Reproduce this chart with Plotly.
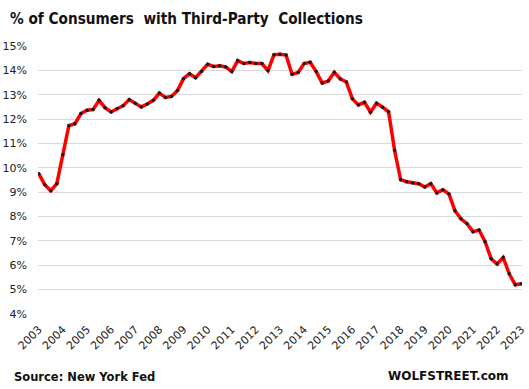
import plotly.graph_objects as go

start_year = 2003
values = [9.76, 9.31, 9.06, 9.35, 10.54, 11.73, 11.81, 12.23, 12.36, 12.39,
          12.77, 12.47, 12.29, 12.43, 12.55, 12.80, 12.65, 12.50, 12.62, 12.77,
          13.07, 12.89, 12.93, 13.17, 13.66, 13.86, 13.70, 13.95, 14.25, 14.16,
          14.19, 14.14, 13.95, 14.40, 14.28, 14.32, 14.28, 14.28, 13.99, 14.64,
          14.66, 14.63, 13.84, 13.91, 14.28, 14.33, 13.95, 13.48, 13.56, 13.92,
          13.65, 13.52, 12.83, 12.58, 12.69, 12.28, 12.65, 12.49, 12.30, 10.71,
          9.51, 9.43, 9.38, 9.35, 9.21, 9.35, 8.97, 9.10, 8.93, 8.24,
          7.91, 7.71, 7.38, 7.45, 6.97, 6.27, 6.05, 6.32, 5.65, 5.20, 5.24]
quarters = [start_year + i / 4 for i in range(len(values))]
tick_years = list(range(2003, 2024))
tick_labels = [str(y) for y in tick_years]
y_ticks = list(range(4, 16))
y_labels = [f"{v}%" for v in y_ticks]

fig = go.Figure()
fig.add_trace(go.Scatter(
    x=quarters, y=values, mode="lines+markers",
    line=dict(color="#ff0000", width=3.5),
    marker=dict(color="#1a1a1a", size=3.5),
    hoverinfo="skip",
))

fig.update_layout(
    width=529, height=389,
    margin=dict(l=38, r=2, t=46, b=75),
    paper_bgcolor="white", plot_bgcolor="white",
    showlegend=False,
    font=dict(family="DejaVu Sans", color="#222222", size=11),
    annotations=[
        dict(text="<b>% of Consumers  with Third-Party  Collections</b>",
             xref="paper", yref="paper", x=-0.062, y=1.0, xanchor="left", yanchor="bottom",
             yshift=16, showarrow=False,
             font=dict(family="DejaVu Sans Condensed, DejaVu Sans", size=15.2, color="#111111")),
        dict(text="<b>Source: New York Fed</b>", xref="paper", yref="paper",
             x=-0.054, y=0, xanchor="left", yanchor="top", yshift=-54,
             showarrow=False, font=dict(size=11.5, color="#111111")),
        dict(text="<b>WOLFSTREET.com</b>", xref="paper", yref="paper",
             x=0.978, y=0, xanchor="right", yanchor="top", yshift=-53,
             showarrow=False, font=dict(size=12, color="#111111")),
    ],
)
fig.update_xaxes(
    range=[2002.97, 2023.03], tickmode="array", tickvals=tick_years,
    ticktext=tick_labels, tickangle=-45, showgrid=False, zeroline=False,
    showline=False, ticks="", tickfont=dict(size=11),
    ticklabeloverflow="allow", ticklabelstandoff=6,
)
fig.update_yaxes(
    range=[4, 15], tickmode="array", tickvals=y_ticks, ticktext=y_labels,
    showgrid=True, gridcolor="#d9d9d9", gridwidth=1, zeroline=False,
    showline=False, ticks="", ticklabelstandoff=10, tickfont=dict(size=11),
)

fig.write_html("out.html",
               config={"displayModeBar": False, "staticPlot": True},
               post_script="document.body.style.margin='0';document.body.style.overflow='hidden';")
